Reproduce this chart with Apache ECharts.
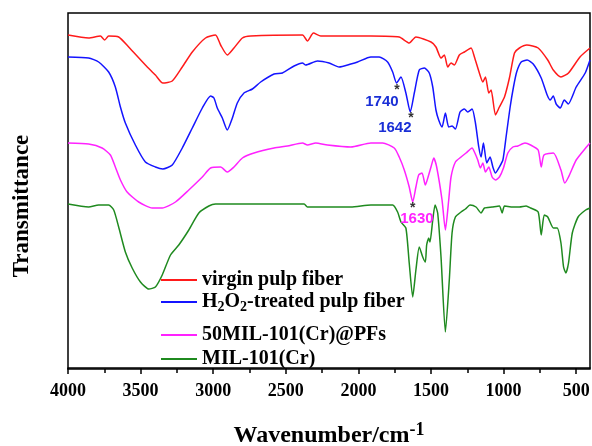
<!DOCTYPE html>
<html><head><meta charset="utf-8">
<script src="https://cdn.jsdelivr.net/npm/echarts@6/dist/echarts.min.js"></script>
<style>html,body{margin:0;padding:0;background:#fff}#c{width:592px;height:446px}</style>
</head><body><div id="c"></div>
<script>
// ---- data (wavenumber in cm-1, transmittance in arbitrary offset units) ----
const virginWn=[4000,3858,3777,3747,3720,3651,3582,3467,3398,3347,3282,3213,3144,3053,2984,2949,2903,2857,2799,2742,2385,2351,2310,2259,1914,1719,1650,1604,1500,1466,1431,1408,1385,1362,1339,1305,1270,1224,1201,1167,1143,1125,1102,1086,1056,1029,994,960,925,891,840,762,696,658,605,553,474,405];
const virginT=[333,330,332,328,332,331,321,303,293,285,287,301,316,330,333,323,313,320,330,332,333,327,335,332,332,331,325,331,326,321,310,313,301,305,303,313,316,320,311,295,286,291,275,278,253,261,271,290,315,320,323,320,308,298,291,295,311,320];

const h2o2Wn=[4000,3858,3789,3720,3674,3639,3605,3536,3467,3398,3347,3282,3213,3144,3075,3018,2995,2972,2937,2903,2868,2834,2788,2730,2673,2581,2523,2443,2385,2363,2282,2202,2133,2052,2006,1914,1857,1799,1764,1737,1707,1673,1643,1615,1581,1546,1512,1488,1466,1447,1424,1401,1378,1355,1332,1300,1270,1247,1217,1194,1171,1155,1139,1116,1093,1074,1056,1029,1005,983,955,932,910,879,838,796,741,700,679,658,638,610,582,555,500,438,405];
const h2o2T=[311,310,306,296,281,261,245,223,206,201,199,203,220,240,260,272,270,260,250,238,250,265,275,279,286,294,295,302,305,303,307,305,301,304,306,311,311,306,296,285,291,275,256,275,298,300,295,281,258,248,241,255,241,242,239,256,259,256,259,245,221,211,225,205,211,201,195,201,208,231,261,281,296,306,308,304,290,273,268,272,264,260,268,264,281,295,308];

const mofPfWn=[4000,3858,3765,3708,3674,3639,3593,3513,3420,3351,3260,3168,3075,3018,2949,2903,2857,2799,2719,2581,2489,2385,2351,2294,2213,2052,1914,1833,1753,1719,1684,1650,1626,1604,1585,1562,1539,1516,1500,1481,1461,1424,1401,1378,1362,1332,1293,1259,1217,1201,1178,1160,1143,1125,1102,1079,1056,1029,1001,971,936,902,853,814,762,741,722,657,605,579,553,500,435,405];
const mofPfT=[225,224,220,213,201,188,176,166,160,160,166,178,191,200,201,196,201,210,215,220,222,225,223,225,223,221,225,225,220,211,198,181,166,181,193,195,183,193,201,210,201,168,138,168,191,206,211,215,220,216,208,200,205,196,201,191,188,191,200,215,221,222,225,223,218,201,213,215,198,185,191,208,220,225];

const milWn=[4000,3858,3789,3720,3685,3651,3605,3558,3501,3444,3398,3351,3294,3237,3168,3099,3030,2984,2374,2351,2052,1914,1764,1730,1707,1673,1650,1626,1604,1581,1557,1539,1530,1516,1507,1488,1472,1454,1431,1401,1374,1355,1332,1293,1263,1231,1190,1155,1132,1079,1029,1010,994,936,891,845,814,762,741,720,696,657,631,605,587,571,553,527,487,435,405];
const milT=[164,161,163,163,158,141,116,100,86,79,81,93,113,123,138,155,162,164,164,161,161,163,163,156,146,140,105,71,98,121,111,106,123,130,126,148,163,155,111,36,88,135,151,156,159,163,161,155,160,161,162,155,162,161,161,162,160,156,133,153,151,140,140,125,101,95,105,135,151,158,160];

const seriesNames=['virgin pulp fiber','H2O2-treated pulp fiber','50MIL-101(Cr)@PFs','MIL-101(Cr)'];
const majorTicks=[500,1000,1500,2000,2500,3000,3500,4000];
const minorTicks=[750,1250,1750,2250,2750,3250,3750];
// annotations: [wavenumber, transmittance, text]
const h2o2Marks=[[1838,266,'1740'],[1735,278,'*'],[1749,240,'1642'],[1638,250,'*']];
const mofMarks=[[1597,149,'1630'],[1626,160,'*']];

// ---- build ----
const zip=(a,b)=>a.map((x,i)=>[x,b[i]]);
const serif='"Liberation Serif","Times New Roman",serif';
const colors=['#ff1a1a','#1414ff','#ff22ff','#1f8a1f'];
function marks(list,color){
  return {symbol:'circle',symbolSize:1,itemStyle:{color:'rgba(0,0,0,0)'},
    data:list.map(m=>({coord:[m[0],m[1]],name:m[2],
      label:{show:true,position:'inside',formatter:'{b}',
        color:m[2]==='*'?'#333':color,fontWeight:'bold',
        fontFamily:'"Liberation Sans",Arial,sans-serif',fontSize:m[2]==='*'?14:15}}))};
}
const data=[zip(virginWn,virginT),zip(h2o2Wn,h2o2T),zip(mofPfWn,mofPfT),zip(milWn,milT)];
const series=data.map((d,i)=>({
  name:seriesNames[i],type:'line',data:d,showSymbol:false,symbol:'none',
  smooth:0.2,lineStyle:{color:colors[i],width:1.5},itemStyle:{color:colors[i]},
  xAxisIndex:0,yAxisIndex:0,animation:false,
  markPoint: i===1?marks(h2o2Marks,'#1a2fd6'):(i===2?marks(mofMarks,'#ff22ff'):undefined)
}));
const legTops=[270,292,325,349];
const legends=seriesNames.map((n,i)=>({
  data:[n],left:161,top:legTops[i],orient:'vertical',padding:0,
  icon:'rect',itemWidth:36,itemHeight:2,selectedMode:false,
  formatter: n==='H2O2-treated pulp fiber' ? 'H{sub|2}O{sub|2}-treated pulp fiber' : '{name}',
  textStyle:{fontFamily:serif,fontWeight:'bold',fontSize:20,color:'#000',
    rich:{sub:{fontFamily:serif,fontWeight:'bold',fontSize:14,verticalAlign:'top',padding:[10,0,0,0]}}}
}));

const chart=echarts.init(document.getElementById('c'),null,{renderer:'canvas'});
chart.setOption({
  animation:false,
  backgroundColor:'#fff',
  grid:{left:68,right:2,top:13,bottom:77,containLabel:false,outerBoundsMode:'none',
    show:true,borderColor:'#000',borderWidth:1.5,backgroundColor:'transparent'},
  xAxis:[{
    type:'value',inverse:true,min:405,max:4000,
    axisLine:{show:true,lineStyle:{color:'#000',width:1.5}},
    axisTick:{show:true,inside:false,length:6,customValues:majorTicks,lineStyle:{color:'#000',width:1.5}},
    axisLabel:{show:true,customValues:majorTicks,formatter:v=>String(v),margin:13,fontFamily:serif,fontWeight:'bold',fontSize:18,color:'#000'},
    splitLine:{show:false},
    name:'Wavenumber/cm{sup|-1}',nameLocation:'middle',nameGap:52,
    nameTextStyle:{fontFamily:serif,fontWeight:'bold',fontSize:24,color:'#000',
      rich:{sup:{fontFamily:serif,fontWeight:'bold',fontSize:18,verticalAlign:'top',padding:[0,0,12,0]}}}
  },{
    type:'value',inverse:true,min:405,max:4000,position:'bottom',
    axisLine:{show:false},
    axisTick:{show:true,inside:false,length:4,customValues:minorTicks,lineStyle:{color:'#000',width:1.5}},
    axisLabel:{show:false},splitLine:{show:false}
  }],
  yAxis:{type:'value',min:-1,max:355,show:false},
  legend:legends,
  graphic:[{type:'text',x:22,y:206,rotation:Math.PI/2,
    style:{text:'Transmittance',font:'bold 23px "Liberation Serif"',fill:'#000',align:'center',verticalAlign:'middle'}}],
  series:series
});
</script></body></html>
